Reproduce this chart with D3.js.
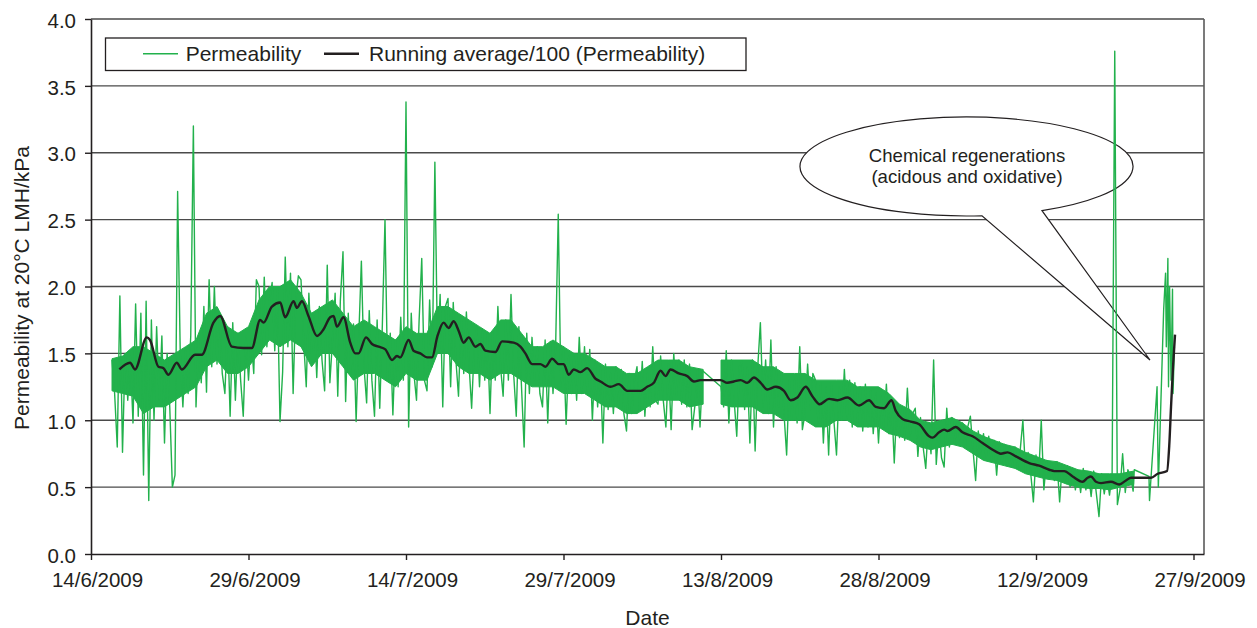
<!DOCTYPE html>
<html>
<head>
<meta charset="utf-8">
<script src="https://cdn.jsdelivr.net/npm/d3@7/dist/d3.min.js"></script>
<style>
  html, body { margin: 0; padding: 0; background: #fff; }
  svg { display: block; font-family: "Liberation Sans", Arial, Helvetica, sans-serif; }
  text { fill: #231f20; }
</style>
</head>
<body>
<svg id="chart" width="1257" height="628"></svg>
<script>
// ---------------- DATA ----------------
const startLabel = "14/6/2009";
const endLabel = "28/9/2009";
const xTickLabels = ["14/6/2009", "29/6/2009", "14/7/2009", "29/7/2009", "13/8/2009", "28/8/2009", "12/9/2009", "27/9/2009"];
const yTicks = [0.0, 0.5, 1.0, 1.5, 2.0, 2.5, 3.0, 3.5, 4.0];

// Permeability readings, one every 6 hours, in segments (segment start date given)
const permSegStarts = ["16/6/2009", "1/7/2009", "16/7/2009", "31/7/2009", "13/8/2009", "28/8/2009", "12/9/2009"];
const permJun16 = [
  1.45, 1.20, 0.80, 1.93,  0.76, 1.50, 1.15, 1.48,  0.98, 1.87, 1.03, 1.80,
  0.59, 1.89, 0.40, 1.75,  1.00, 1.70, 1.15, 1.63,  0.83, 1.50, 1.10, 0.50,
  0.59, 2.71, 1.50, 1.10,  1.52, 1.20, 1.63, 3.20,  1.10, 1.62, 1.28, 1.85,
  1.21, 2.05, 1.40, 2.00,  1.42, 1.80, 1.35, 1.20,  1.70, 1.03, 1.73, 1.15,
  1.65, 1.30, 1.03, 1.63,  1.30, 1.62, 1.35, 2.05,  2.00, 1.49, 2.07, 1.55
];
const permJul01 = [
  1.90, 2.03, 1.52, 1.98,  0.99, 1.36, 2.22, 1.55,  2.10, 1.20, 1.90, 2.08,
  2.05, 1.60, 1.25, 1.95,  1.50, 1.78, 1.32, 1.85,  1.45, 1.22, 2.16, 1.28,
  1.60, 1.95, 1.18, 1.90,  2.26, 1.14, 1.80, 1.35,  1.72, 0.99, 1.62, 2.19,
  1.40, 1.13, 1.82, 1.30,  1.03, 1.75, 1.09, 1.72,  2.50, 1.30, 1.65, 1.04,
  1.60, 1.25, 1.77, 1.30,  3.38, 0.95, 1.80, 1.35,  1.15, 1.75, 2.21, 1.30
];
const permJul16 = [
  1.22, 1.90, 1.40, 2.93,  1.50, 1.94, 1.10, 1.85,  1.91, 1.25, 1.88, 1.45,
  1.18, 1.78, 1.35, 1.81,  1.42, 1.09, 1.55, 1.70,  1.25, 1.68, 1.30, 1.65,
  1.05, 1.65, 1.30, 1.85,  1.40, 1.18, 1.75, 1.30,  1.94, 1.35, 1.03, 1.70,
  1.25, 0.80, 1.65, 1.20,  1.62, 1.30, 1.55, 1.20,  1.10, 1.60, 0.98, 1.59,
  1.20, 1.55, 2.54, 1.25,  1.55, 0.97, 1.48, 1.20,  1.50, 1.15, 1.62, 1.20
];
const permJul31 = [
  1.55, 1.20, 1.53, 1.00,  1.45, 1.10, 1.40, 0.83,  1.42, 1.08, 1.35, 1.05,
  1.40, 1.10, 1.38, 1.05,  0.92, 1.35, 1.05, 1.30,  1.40, 1.08, 1.44, 1.03,
  1.35, 1.10, 1.55, 1.15,  1.12, 1.48, 1.15, 0.95,  1.42, 0.93, 1.50, 1.18,
  1.45, 1.12, 1.45, 1.10,  1.42, 0.93, 1.10, 1.38,  0.95, 1.37
];
const permAug13 = [
  1.25, 1.10, 1.52, 0.98,  1.45, 1.15, 0.88, 1.40,  1.44, 1.08, 1.40, 0.83,
  1.45, 0.77, 1.40, 1.73,  1.10, 1.45, 1.05, 1.60,  0.95, 1.40, 1.10, 1.35,
  1.05, 0.74, 1.30, 1.00,  1.30, 0.98, 1.55, 0.93,  1.05, 1.42, 1.08, 1.35,
  1.30, 0.98, 1.28, 0.83,  1.25, 0.74, 1.28, 1.00,  0.74, 1.25, 1.00, 1.38,
  1.00, 1.30, 0.95, 1.28,  0.98, 1.25, 0.92, 1.27,  0.95, 1.22, 0.90, 1.20
];
const permAug28 = [
  0.83, 1.18, 0.95, 1.27,  0.90, 1.15, 0.68, 1.12,  0.87, 1.10, 0.85, 1.24,
  0.88, 1.05, 1.09, 0.73,  1.02, 0.80, 0.64, 0.98,  0.75, 1.45, 0.67, 0.95,
  0.72, 0.65, 1.09, 0.80,  1.02, 0.82, 1.00, 0.85,  0.98, 0.80, 0.95, 1.03,
  0.78, 0.55, 0.92, 0.75,  0.90, 0.72, 0.88, 0.70,  0.85, 0.59, 0.84, 0.68,
  0.82, 0.66, 0.80, 0.65,  0.80, 0.64, 0.78, 1.00,  0.62, 0.76, 0.60, 0.39
];
const permSep12 = [
  0.74, 0.58, 1.00, 0.48,  0.70, 0.56, 0.68, 0.55,  0.69, 0.39, 0.67, 0.54,
  0.66, 0.50, 0.64, 0.48,  0.62, 0.46, 0.64, 0.48,  0.60, 0.43, 0.62, 0.45,
  0.28, 0.60, 0.45, 0.58,  0.44, 0.60, 3.76, 0.37,  0.48, 0.75, 0.46, 0.63,
  0.58, 0.47
];
// Sparse readings after the regenerations (days since 14/6/2009)
const permTailDays = [99.36, 100.76, 100.81, 101.53, 101.65, 102.16, 102.34, 102.41, 102.56, 102.62, 102.72, 102.86, 103.00, 103.05, 103.18];
const permTailVals = [0.63, 0.58, 0.40, 1.25, 0.50, 1.83, 2.10, 1.55, 2.21, 1.25, 2.00, 1.30, 1.98, 1.20, 1.55];

// Dense core of the permeability readings per day (days since 14/6/2009): low / high
const coreDays = [2, 3, 4, 5, 6, 7, 8, 9, 10, 11, 12, 13, 14, 15, 16, 17, 18, 19, 20, 21, 22, 23, 24, 25, 26, 27, 28, 29, 30,
  31, 32, 33, 34, 35, 36, 37, 38, 39, 40, 41, 42, 43, 44, 45, 46, 47, 48, 49, 50, 51, 52, 53, 54, 55, 56, 57, 58.3,
  60, 61, 62, 63, 64, 65, 66, 67, 68, 69, 70, 71, 72, 73, 74, 75, 76, 77, 78, 79, 80, 81, 82, 83, 84, 85, 86, 87, 88,
  89, 90, 91, 92, 93, 94, 95, 96, 97, 98, 99.3];
const coreLo = [1.22, 1.20, 1.18, 1.05, 1.10, 1.10, 1.15, 1.20, 1.25, 1.40, 1.45, 1.35, 1.35, 1.40, 1.50, 1.60, 1.55, 1.60, 1.55,
  1.40, 1.50, 1.50, 1.40, 1.30, 1.35, 1.35, 1.30, 1.25, 1.35, 1.30, 1.30, 1.50, 1.50, 1.40, 1.35, 1.35, 1.30, 1.35, 1.35,
  1.30, 1.25, 1.25, 1.25, 1.20, 1.20, 1.20, 1.15, 1.10, 1.10, 1.05, 1.05, 1.10, 1.15, 1.15, 1.15, 1.10, 1.12,
  1.12, 1.10, 1.10, 1.10, 1.05, 1.05, 1.00, 1.00, 1.00, 0.95, 0.95, 1.00, 1.00, 0.95, 0.95, 0.95, 0.90, 0.88, 0.85, 0.80,
  0.78, 0.80, 0.82, 0.80, 0.75, 0.70, 0.68, 0.66, 0.64, 0.60, 0.58, 0.56, 0.55, 0.52, 0.50, 0.49, 0.49, 0.48, 0.50, 0.52];
const coreHi = [1.46, 1.48, 1.55, 1.55, 1.50, 1.45, 1.50, 1.55, 1.60, 1.80, 1.85, 1.70, 1.65, 1.70, 1.90, 2.00, 2.00, 2.05, 1.95,
  1.80, 1.85, 1.90, 1.80, 1.70, 1.75, 1.70, 1.65, 1.60, 1.70, 1.65, 1.65, 1.85, 1.85, 1.80, 1.75, 1.70, 1.65, 1.75, 1.75,
  1.65, 1.55, 1.55, 1.60, 1.55, 1.50, 1.50, 1.45, 1.40, 1.40, 1.35, 1.35, 1.40, 1.45, 1.45, 1.45, 1.40, 1.38,
  1.45, 1.45, 1.45, 1.45, 1.40, 1.40, 1.35, 1.35, 1.35, 1.30, 1.30, 1.30, 1.30, 1.25, 1.25, 1.25, 1.20, 1.12, 1.08, 1.00,
  0.98, 1.00, 1.02, 0.98, 0.92, 0.88, 0.85, 0.82, 0.80, 0.76, 0.73, 0.70, 0.69, 0.66, 0.63, 0.62, 0.60, 0.60, 0.60, 0.62];

// Running average/100 (days since 14/6/2009)
const avgDays = [2.70, 3.72, 4.19, 5.31, 5.62, 6.42, 6.89, 7.37, 8.17, 8.65, 9.91, 10.55, 11.66, 12.30, 13.41, 14.52, 15.32, 16.11, 16.43, 17.23,
  18.02, 18.49, 19.29, 19.61, 20.09, 20.71, 21.52, 22.15, 22.78, 23.10, 23.42, 24.05, 24.69, 25.17, 25.48, 26.19, 26.76, 27.39, 28.03, 28.67,
  29.14, 29.46, 30.25, 30.72, 31.36, 32.00, 32.48, 33.00, 33.58, 34.06, 34.54, 35.01, 35.49, 35.97, 36.61, 37.08, 37.56, 38.51, 39.15, 40.26,
  40.90, 41.37, 42.01, 42.80, 43.28, 43.92, 44.55, 45.02, 45.50, 45.98, 46.62, 47.25, 48.05, 48.52, 49.48, 50.27, 51.07, 52.34, 52.97, 53.60,
  54.24, 54.72, 55.19, 55.99, 56.79, 57.42, 58.06, 59.96, 60.60, 61.23, 61.87, 62.51, 63.14, 63.78, 64.41, 65.21, 66.00, 66.64, 67.27, 68.07,
  68.70, 69.40, 70.29, 71.09, 72.04, 73.15, 74.10, 74.74, 75.53, 76.24, 76.64, 77.28, 78.07, 78.87, 79.82, 80.14, 80.77, 81.25, 81.57, 82.36,
  83.00, 83.96, 84.91, 85.87, 86.65, 87.29, 88.08, 89.35, 90.31, 91.26, 91.74, 92.69, 93.49, 94.44, 94.92, 95.23, 95.71, 96.19, 97.14, 97.93,
  98.57, 99.05, 100.95, 101.59, 102.48, 102.69, 102.86, 103.05, 103.24];
const avgVals = [1.38, 1.43, 1.38, 1.62, 1.60, 1.40, 1.39, 1.34, 1.43, 1.38, 1.49, 1.49, 1.73, 1.78, 1.55, 1.54, 1.54, 1.75, 1.73, 1.85,
  1.88, 1.77, 1.89, 1.84, 1.89, 1.78, 1.63, 1.68, 1.77, 1.78, 1.70, 1.77, 1.58, 1.50, 1.50, 1.62, 1.57, 1.55, 1.53, 1.45,
  1.48, 1.47, 1.60, 1.52, 1.50, 1.47, 1.47, 1.63, 1.73, 1.69, 1.74, 1.67, 1.58, 1.62, 1.55, 1.57, 1.52, 1.51, 1.59, 1.58,
  1.55, 1.50, 1.42, 1.42, 1.40, 1.46, 1.42, 1.42, 1.34, 1.38, 1.36, 1.39, 1.31, 1.29, 1.25, 1.27, 1.22, 1.22, 1.25, 1.28,
  1.37, 1.33, 1.38, 1.35, 1.33, 1.29, 1.30, 1.30, 1.28, 1.29, 1.30, 1.28, 1.32, 1.28, 1.23, 1.25, 1.22, 1.15, 1.17, 1.25,
  1.18, 1.12, 1.16, 1.15, 1.17, 1.11, 1.15, 1.10, 1.09, 1.15, 1.07, 1.01, 0.99, 0.97, 0.88, 0.87, 0.91, 0.93, 0.92, 0.95,
  0.91, 0.88, 0.83, 0.78, 0.75, 0.76, 0.73, 0.68, 0.66, 0.63, 0.62, 0.62, 0.58, 0.54, 0.57, 0.58, 0.54, 0.53, 0.54, 0.52,
  0.55, 0.57, 0.57, 0.60, 0.62, 0.81, 1.10, 1.40, 1.64];

const seriesNames = ["Permeability", "Running average/100 (Permeability)"];
const axisTitles = { x: "Date", y: "Permeability at 20°C LMH/kPa" };
const calloutLines = ["Chemical regenerations", "(acidous and oxidative)"];

// ---------------- CHART ----------------
const parse = d3.timeParse("%d/%m/%Y");
const t0 = parse(startLabel);
const DAY = 864e5;
const dayDate = d => new Date(t0.getTime() + d * DAY);

const margin = { left: 91, right: 1204, top: 19, bottom: 554 };
const x = d3.scaleTime().domain([t0, parse(endLabel)]).range([margin.left, margin.right]);
const y = d3.scaleLinear().domain([0, 4]).range([margin.bottom, margin.top]);

const GREEN = "#22b14c";
const INK = "#231f20";

// build the permeability series
const segments = [permJun16, permJul01, permJul16, permJul31, permAug13, permAug28, permSep12];
const perm = [];
segments.forEach((seg, si) => {
  const s = parse(permSegStarts[si]).getTime();
  seg.forEach((v, i) => perm.push({ t: new Date(s + i * 0.25 * DAY), v }));
});
permTailDays.forEach((d, i) => perm.push({ t: dayDate(d), v: permTailVals[i] }));
const avg = avgDays.map((d, i) => ({ t: dayDate(d), v: avgVals[i] }));

// core band, split where there is a gap in the record
const coreParts = [[]];
coreDays.forEach((d, i) => {
  if (i > 0 && d - coreDays[i - 1] > 1.5) coreParts.push([]);
  coreParts[coreParts.length - 1].push({ t: dayDate(d), lo: coreLo[i], hi: coreHi[i] });
});

const svg = d3.select("#chart");

// grid lines
svg.append("g").selectAll("line").data(yTicks.filter(v => v > 0)).join("line")
  .attr("x1", margin.left).attr("x2", margin.right)
  .attr("y1", d => y(d)).attr("y2", d => y(d))
  .attr("stroke", "#4a4a4a").attr("stroke-width", 1.4);

// right border
svg.append("line").attr("x1", margin.right).attr("x2", margin.right)
  .attr("y1", margin.top).attr("y2", margin.bottom)
  .attr("stroke", "#5a5a5a").attr("stroke-width", 1.6);

// callout bubble
const cx = 966.5, cy = 166.5, rx = 166.5, ry = 49.5;
const ex = xx => cy + ry * Math.sqrt(1 - Math.pow((xx - cx) / rx, 2));
const a1 = [1042, ex(1042)], a2 = [982, ex(982)], tip = [1150, 360];
svg.append("path")
  .attr("d", `M${a1[0]},${a1[1]} A${rx},${ry} 0 1 0 ${a2[0]},${a2[1]} L${tip[0]},${tip[1]} Z`)
  .attr("fill", "#fff").attr("stroke", INK).attr("stroke-width", 1.2);
svg.append("g").selectAll("text").data(calloutLines).join("text")
  .attr("x", 967).attr("y", (d, i) => 161.5 + i * 21.5)
  .attr("text-anchor", "middle").attr("font-size", 18.6).text(d => d);

// dense core of readings
const area = d3.area().x(d => x(d.t)).y0(d => y(d.lo)).y1(d => y(d.hi));
svg.append("g").selectAll("path").data(coreParts).join("path")
  .attr("d", area).attr("fill", GREEN).attr("stroke", GREEN).attr("stroke-width", 1);

// green permeability line
const line = d3.line().x(d => x(d.t)).y(d => y(d.v));
svg.append("path").datum(perm).attr("d", line)
  .attr("fill", "none").attr("stroke", GREEN).attr("stroke-width", 1.4)
  .attr("stroke-linejoin", "round");

// running average line
svg.append("path").datum(avg).attr("d", d3.line().x(d => x(d.t)).y(d => y(d.v)).curve(d3.curveMonotoneX))
  .attr("fill", "none").attr("stroke", INK).attr("stroke-width", 2.4)
  .attr("stroke-linejoin", "round");

// axes
const xAxis = d3.axisBottom(x).tickValues(xTickLabels.map(parse))
  .tickFormat(d3.timeFormat("%-d/%-m/%Y")).tickSize(6).tickSizeOuter(0).tickPadding(12);
const gx = svg.append("g").attr("transform", `translate(0,${margin.bottom})`).call(xAxis);
gx.selectAll("text").attr("font-size", 20.5).attr("dx", 6).attr("fill", INK);
gx.select(".domain").attr("stroke", INK).attr("stroke-width", 1.6);
gx.selectAll(".tick line").attr("stroke", INK).attr("stroke-width", 1.4);

const yAxis = d3.axisLeft(y).tickValues(yTicks).tickFormat(d3.format(".1f"))
  .tickSize(6).tickSizeOuter(0).tickPadding(9);
const gy = svg.append("g").attr("transform", `translate(${margin.left},0)`).call(yAxis);
gy.selectAll("text").attr("font-size", 20.5).attr("dy", "0.4em").attr("fill", INK);
gy.select(".domain").attr("stroke", INK).attr("stroke-width", 1.6);
gy.selectAll(".tick line").attr("stroke", INK).attr("stroke-width", 1.4);
svg.selectAll("g").attr("font-family", null);

// axis titles
svg.append("text").attr("x", 647.5).attr("y", 625).attr("text-anchor", "middle")
  .attr("font-size", 21).text(axisTitles.x);
svg.append("text").attr("transform", "translate(29,288) rotate(-90)").attr("text-anchor", "middle")
  .attr("font-size", 21).text(axisTitles.y);

// legend
const lg = svg.append("g");
lg.append("rect").attr("x", 105.5).attr("y", 38).attr("width", 640.5).attr("height", 32.5)
  .attr("fill", "#fff").attr("stroke", INK).attr("stroke-width", 1.3);
const legendItems = [
  { name: seriesNames[0], color: GREEN, w: 1.5, x0: 143, tx: 185.7 },
  { name: seriesNames[1], color: INK, w: 2.4, x0: 324, tx: 369 }
];
legendItems.forEach(it => {
  lg.append("line").attr("x1", it.x0).attr("x2", it.x0 + 35).attr("y1", 53.7).attr("y2", 53.7)
    .attr("stroke", it.color).attr("stroke-width", it.w);
  lg.append("text").attr("x", it.tx).attr("y", 61).attr("font-size", 21).text(it.name);
});
</script>
</body>
</html>
